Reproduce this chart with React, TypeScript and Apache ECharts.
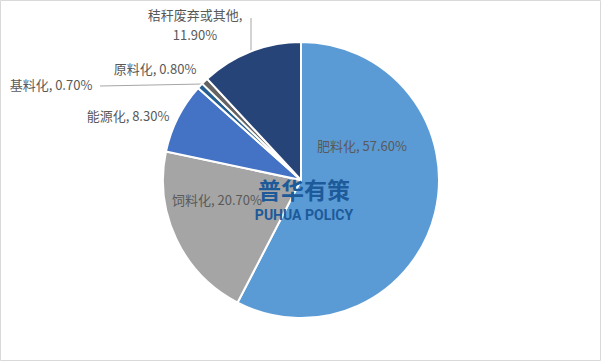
import React, { useEffect, useRef } from "react";
import * as echarts from "echarts";

const categories = ["肥料化", "饲料化", "能源化", "基料化", "原料化", "秸秆废弃或其他"];
const values = [57.6, 20.7, 8.3, 0.7, 0.8, 11.9];
const colors = ["#5B9BD5", "#A5A5A5", "#4472C4", "#255E91", "#636363", "#264478"];
const showLine = [false, false, false, true, false, true];

// label layout (centre of label box, leader line endpoints)
const labelPos: [number, number][] = [
  [362, 145],
  [217, 199],
  [128, 115],
  [51, 84],
  [155, 68],
  [195, 24],
];
const linePts: ([number, number][] | null)[] = [
  null,
  null,
  null,
  [[203, 84], [100, 86]],
  null,
  [[251, 51], [251, 18]],
];

export default function App() {
  const ref = useRef<HTMLDivElement>(null);
  useEffect(() => {
    if (!ref.current) return;
    const chart = echarts.init(ref.current, null, { renderer: "svg" });
    chart.setOption({
      animation: false,
      backgroundColor: "#ffffff",
      graphic: [
        {
          type: "rect",
          shape: { x: 0.5, y: 0.5, width: 600, height: 360 },
          style: { fill: "none", stroke: "#D9D9D9", lineWidth: 1 },
          z: 0,
        },
        {
          type: "text",
          x: 304,
          y: 189,
          z: 100,
          style: {
            text: "普华有策",
            fill: "#1C5A9A",
            font: "bold 23px 'Noto Sans CJK SC'",
            align: "center",
            verticalAlign: "middle",
          },
        },
        {
          type: "text",
          x: 304,
          y: 215,
          z: 100,
          style: {
            text: "PUHUA POLICY",
            fill: "#1C5A9A",
            font: "bold 14px 'Liberation Sans Narrow', 'Roboto'",
            align: "center",
            verticalAlign: "middle",
          },
        },
      ],
      series: [
        {
          type: "pie",
          center: [301, 180],
          radius: [0, 138],
          startAngle: 90,
          clockwise: true,
          avoidLabelOverlap: false,
          itemStyle: { borderColor: "#ffffff", borderWidth: 2 },
          label: {
            show: true,
            position: "outside",
            formatter: (p: any) =>
              p.dataIndex === 5
                ? `${p.name},\n${p.value.toFixed(2)}%`
                : `${p.name}, ${p.value.toFixed(2)}%`,
            color: "#595959",
            fontSize: 13,
            lineHeight: 20,
            fontFamily: "'Noto Sans CJK SC'",
          },
          labelLine: { show: true, lineStyle: { color: "#A6A6A6", width: 1 } },
          labelLayout: (params: any) => {
            const i = params.dataIndex;
            const out: any = {
              x: labelPos[i][0],
              y: labelPos[i][1],
              align: "center",
              verticalAlign: "middle",
            };
            if (linePts[i]) out.labelLinePoints = linePts[i];
            return out;
          },
          data: categories.map((name, i) => ({
            name,
            value: values[i],
            itemStyle: { color: colors[i] },
            labelLine: { show: showLine[i] },
          })),
        },
      ],
    });
    return () => chart.dispose();
  }, []);
  return (
    <div
      ref={ref}
      style={{ position: "absolute", left: 0, top: 0, width: 601, height: 361 }}
    />
  );
}
